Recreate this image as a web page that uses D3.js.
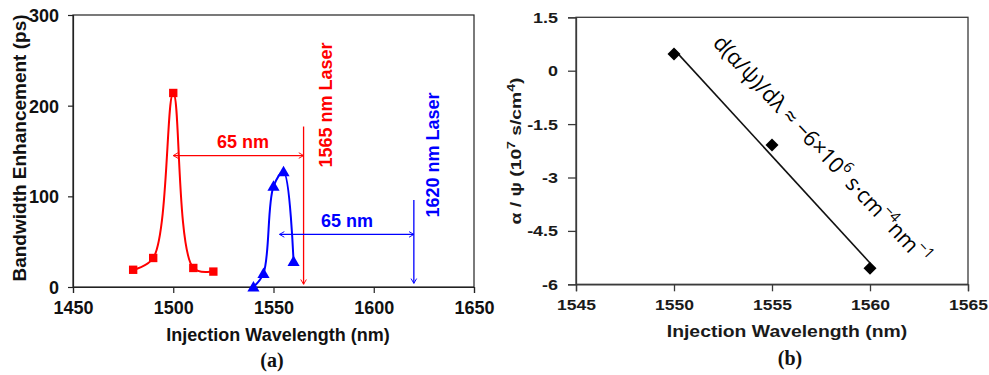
<!DOCTYPE html>
<html><head><meta charset="utf-8">
<script src="https://cdn.jsdelivr.net/npm/d3@7"></script>
<style>
html,body{margin:0;padding:0;background:#fff;}
svg{display:block;}
text{font-family:"Liberation Sans",Arial,sans-serif;}
</style></head>
<body>
<svg id="c" width="989" height="375"></svg>
<script>
// ---------- data: panel (a) ----------
const redX = [1480, 1490, 1500, 1510, 1520];
const redY = [19, 32, 214, 21, 17];
const blueX = [1540, 1545, 1550, 1555, 1560];
const blueY = [0, 15, 111, 127, 28];
const aXTicks = [1450, 1500, 1550, 1600, 1650];
const aYTicks = [0, 100, 200, 300];
// annotation arrows (data coordinates)
const redLaser = {x: 1565, y0: 177, y1: 3};
const redSpan = {x0: 1500, x1: 1565, y: 145};
const blueLaser = {x: 1620, y0: 96, y1: 4};
const blueSpan = {x0: 1553, x1: 1620, y: 58};

// ---------- data: panel (b) ----------
const bX = [1550, 1555, 1560];
const bY = [0.47, -2.09, -5.55];
const fitX = [1550, 1560];
const fitY = [0.6, -5.4];
const bXTicks = [1545, 1550, 1555, 1560, 1565];
const bYTicks = [1.5, 0, -1.5, -3, -4.5, -6];
const bYTickLabels = ["1.5", "0", "-1.5", "-3", "-4.5", "-6"];

const svg = d3.select("#c");
const defs = svg.append("defs");
function marker(id, color){
  defs.append("marker").attr("id", id).attr("viewBox", "-8 -5 10 10")
    .attr("refX", 0).attr("refY", 0).attr("markerWidth", 8).attr("markerHeight", 8)
    .attr("markerUnits", "userSpaceOnUse").attr("orient", "auto-start-reverse")
    .append("path").attr("d", "M-6,-3.5L0,0L-6,3.5").attr("fill", "none")
    .attr("stroke", color).attr("stroke-width", 1.2);
}
marker("arR", "#ff0000");
marker("arB", "#0000ff");

// ================= Panel (a) =================
const ax = d3.scaleLinear().domain([1450, 1650]).range([73, 474]);
const ay = d3.scaleLinear().domain([0, 300]).range([287, 15]);
const gA = svg.append("g");

// box
gA.append("rect").attr("x", ax(1450)).attr("y", ay(300))
  .attr("width", ax(1650) - ax(1450)).attr("height", ay(0) - ay(300))
  .attr("fill", "none").attr("stroke", "#222").attr("stroke-width", 1.2);

const axA = gA.append("g").attr("transform", `translate(0,${ay(0)})`)
  .call(d3.axisBottom(ax).tickValues(aXTicks).tickSize(6).tickPadding(8).tickFormat(d3.format("d")));
const ayA = gA.append("g").attr("transform", `translate(${ax(1450)},0)`)
  .call(d3.axisLeft(ay).tickValues(aYTicks).tickSize(5).tickPadding(9));
[axA, ayA].forEach(g => {
  g.select(".domain").attr("stroke", "#222").attr("stroke-width", 1.2);
  g.selectAll(".tick line").attr("stroke", "#222").attr("stroke-width", 1.2);
  g.selectAll("text").attr("font-size", 18).attr("font-weight", "bold").attr("fill", "#111")
    .style("font-family", '"Liberation Sans",Arial,sans-serif');
});
ayA.selectAll("text").attr("dy", "0.36em");

gA.append("text").attr("x", 278).attr("y", 341).attr("text-anchor", "middle")
  .attr("font-size", 18).attr("font-weight", "bold").attr("fill", "#111")
  .text("Injection Wavelength (nm)");
gA.append("text").attr("transform", "translate(26,148) rotate(-90)").attr("text-anchor", "middle")
  .attr("font-size", 19).attr("font-weight", "bold").attr("fill", "#111")
  .text("Bandwidth Enhancement (ps)");
gA.append("text").attr("x", 272).attr("y", 367).attr("text-anchor", "middle")
  .attr("font-size", 20).attr("font-weight", "bold").attr("fill", "#111")
  .style("font-family", '"Liberation Serif","Times New Roman",serif').text("(a)");

// curves
const lineA = d3.line().x(d => ax(d[0])).y(d => ay(d[1])).curve(d3.curveCatmullRom.alpha(0.5));
const red = redX.map((x, i) => [x, redY[i]]);
const blue = blueX.map((x, i) => [x, blueY[i]]);
gA.append("path").datum(red).attr("d", lineA).attr("fill", "none")
  .attr("stroke", "#ff0000").attr("stroke-width", 2);
gA.append("path").datum(blue).attr("d", lineA).attr("fill", "none")
  .attr("stroke", "#0000ff").attr("stroke-width", 2);
gA.selectAll(".rs").data(red).join("path")
  .attr("transform", d => `translate(${ax(d[0])},${ay(d[1])})`)
  .attr("d", d3.symbol(d3.symbolSquare, 70)).attr("fill", "#ff0000");
gA.selectAll(".bt").data(blue).join("path")
  .attr("transform", d => `translate(${ax(d[0])},${ay(d[1]) + 1})`)
  .attr("d", d3.symbol(d3.symbolTriangle, 64)).attr("fill", "#0000ff");

// annotations
gA.append("line").attr("x1", ax(redLaser.x)).attr("x2", ax(redLaser.x))
  .attr("y1", ay(redLaser.y0)).attr("y2", ay(redLaser.y1))
  .attr("stroke", "#ff0000").attr("stroke-width", 1.3).attr("marker-end", "url(#arR)");
gA.append("line").attr("x1", ax(redSpan.x0)).attr("x2", ax(redSpan.x1))
  .attr("y1", ay(redSpan.y)).attr("y2", ay(redSpan.y))
  .attr("stroke", "#ff0000").attr("stroke-width", 1.3)
  .attr("marker-start", "url(#arR)").attr("marker-end", "url(#arR)");
gA.append("line").attr("x1", ax(blueLaser.x)).attr("x2", ax(blueLaser.x))
  .attr("y1", ay(blueLaser.y0)).attr("y2", ay(blueLaser.y1))
  .attr("stroke", "#0000ff").attr("stroke-width", 1.3).attr("marker-end", "url(#arB)");
gA.append("line").attr("x1", ax(blueSpan.x0)).attr("x2", ax(blueSpan.x1))
  .attr("y1", ay(blueSpan.y)).attr("y2", ay(blueSpan.y))
  .attr("stroke", "#0000ff").attr("stroke-width", 1.3)
  .attr("marker-start", "url(#arB)").attr("marker-end", "url(#arB)");

gA.append("text").attr("x", 243).attr("y", 148).attr("text-anchor", "middle")
  .attr("font-size", 18).attr("font-weight", "bold").attr("fill", "#ff0000").text("65 nm");
gA.append("text").attr("x", 347).attr("y", 227).attr("text-anchor", "middle")
  .attr("font-size", 18).attr("font-weight", "bold").attr("fill", "#0000ff").text("65 nm");
gA.append("text").attr("transform", "translate(332,105) rotate(-90)").attr("text-anchor", "middle")
  .attr("font-size", 18).attr("font-weight", "bold").attr("fill", "#ff0000").text("1565 nm Laser");
gA.append("text").attr("transform", "translate(439,155) rotate(-90)").attr("text-anchor", "middle")
  .attr("font-size", 18).attr("font-weight", "bold").attr("fill", "#0000ff").text("1620 nm Laser");

// ================= Panel (b) =================
const bx = d3.scaleLinear().domain([1545, 1565]).range([576, 968]);
const by = d3.scaleLinear().domain([-6, 1.5]).range([284.3, 17.3]);
const gB = svg.append("g");
function stretch(sel, f){
  sel.each(function(){
    const L = this.getComputedTextLength();
    d3.select(this).attr("textLength", L * f).attr("lengthAdjust", "spacingAndGlyphs");
  });
}

gB.append("rect").attr("x", bx(1545)).attr("y", by(1.5))
  .attr("width", bx(1565) - bx(1545)).attr("height", by(-6) - by(1.5))
  .attr("fill", "none").attr("stroke", "#3a3a3a").attr("stroke-width", 1.3);
const bxA = gB.append("g").attr("transform", `translate(0,${by(-6)})`)
  .call(d3.axisBottom(bx).tickValues(bXTicks).tickSize(7).tickPadding(9).tickFormat(d3.format("d")));
const byA = gB.append("g").attr("transform", `translate(${bx(1545)},0)`)
  .call(d3.axisLeft(by).tickValues(bYTicks).tickSize(8).tickPadding(10)
    .tickFormat((d, i) => bYTickLabels[i]));
[bxA, byA].forEach(g => {
  g.select(".domain").attr("stroke", "#3a3a3a").attr("stroke-width", 1.3);
  g.selectAll(".tick line").attr("stroke", "#3a3a3a").attr("stroke-width", 1.3);
  g.selectAll("text").attr("font-size", 14).attr("font-weight", "bold").attr("fill", "#1a1a1a")
    .style("font-family", '"Liberation Sans",Arial,sans-serif');
});
byA.selectAll("text").attr("dy", "0.36em");
stretch(bxA.selectAll("text"), 1.25);
stretch(byA.selectAll("text"), 1.28);

const bxt = gB.append("text").attr("x", 787).attr("y", 337).attr("text-anchor", "middle")
  .attr("font-size", 17).attr("font-weight", "bold").attr("fill", "#1a1a1a")
  .text("Injection Wavelength (nm)");
stretch(bxt, 1.14);

const byt = gB.append("text").attr("transform", "translate(521,151) rotate(-90)").attr("text-anchor", "middle")
  .attr("font-size", 15).attr("font-weight", "bold").attr("fill", "#1a1a1a");
byt.append("tspan").text("α / ψ (10");
byt.append("tspan").attr("font-size", 11).attr("dy", -6).text("7");
byt.append("tspan").attr("dy", 6).text(" s/cm");
byt.append("tspan").attr("font-size", 11).attr("dy", -6).text("4");
byt.append("tspan").attr("dy", 6).text(")");
byt.attr("textLength", 147).attr("lengthAdjust", "spacingAndGlyphs");

gB.append("text").attr("x", 790).attr("y", 365).attr("text-anchor", "middle")
  .attr("font-size", 20).attr("font-weight", "bold").attr("fill", "#111")
  .style("font-family", '"Liberation Serif","Times New Roman",serif').text("(b)");

// fit line & points
gB.append("line").attr("x1", bx(fitX[0])).attr("y1", by(fitY[0]))
  .attr("x2", bx(fitX[1])).attr("y2", by(fitY[1]))
  .attr("stroke", "#111").attr("stroke-width", 1.6);
const bpts = bX.map((x, i) => [x, bY[i]]);
gB.selectAll(".dm").data(bpts).join("path")
  .attr("transform", d => `translate(${bx(d[0])},${by(d[1])}) rotate(45)`)
  .attr("d", d3.symbol(d3.symbolSquare, 85)).attr("fill", "#000");

// slope annotation
const ann = gB.append("text")
  .attr("transform", `translate(${bx(1557.6)},${by(-2.2)}) rotate(46.8)`)
  .attr("text-anchor", "middle").attr("dominant-baseline", "central")
  .attr("font-size", 22).attr("fill", "#000")
  .style("font-family", '"Open Sans","Noto Sans",sans-serif');
ann.append("tspan").text("d(α/ψ)/dλ ≈ −6×10");
ann.append("tspan").attr("font-size", 15).attr("dy", -7).text("6");
ann.append("tspan").attr("dy", 7).text(" s·cm");
ann.append("tspan").attr("font-size", 15).attr("dy", -7).text("−4");
ann.append("tspan").attr("dy", 7).text("nm");
ann.append("tspan").attr("font-size", 15).attr("dy", -7).text("−1");
ann.attr("textLength", 305).attr("lengthAdjust", "spacingAndGlyphs");
</script>
</body></html>
